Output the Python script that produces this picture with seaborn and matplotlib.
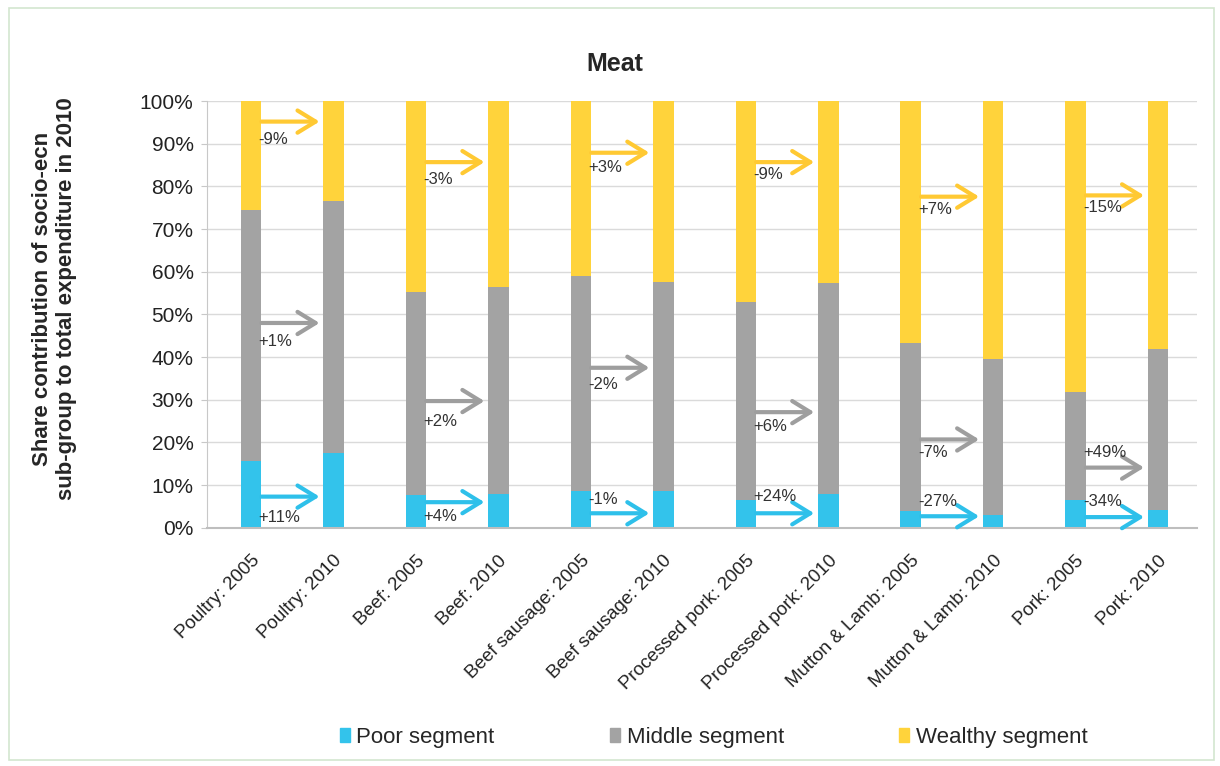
import seaborn as sns
import pandas as pd
import numpy as np
import matplotlib.pyplot as plt
from matplotlib.patches import Rectangle, Patch

# data (shares in %)
products = ["Poultry", "Beef", "Beef sausage", "Processed pork", "Mutton & Lamb", "Pork"]
years = ["2005", "2010"]
bar_labels = [f"{p}: {y}" for p in products for y in years]

poor = [15.7, 17.5, 7.7, 8.0, 8.7, 8.6, 6.5, 8.0, 3.9, 2.9, 6.5, 4.1]
middle = [58.8, 59.1, 47.6, 48.5, 50.3, 49.1, 46.5, 49.4, 39.5, 36.6, 25.3, 37.7]
wealthy = [25.5, 23.4, 44.7, 43.5, 41.0, 42.3, 47.0, 42.6, 56.6, 60.5, 68.2, 58.2]

# change 2005 -> 2010 for each product
poor_change = ["+11%", "+4%", "-1%", "+24%", "-27%", "-34%"]
middle_change = ["+1%", "+2%", "-2%", "+6%", "-7%", "+49%"]
wealthy_change = ["-9%", "-3%", "+3%", "-9%", "+7%", "-15%"]

# where the annotation arrows and their labels sit (in %)
poor_arrow_y = [7.3, 6.0, 3.4, 3.4, 2.7, 2.5]
middle_arrow_y = [48.0, 29.7, 37.5, 27.1, 20.7, 14.1]
wealthy_arrow_y = [95.2, 85.7, 87.9, 85.7, 77.6, 77.9]
poor_label_y = [2.4, 2.7, 6.6, 7.3, 6.1, 6.1]
middle_label_y = [43.7, 25.0, 33.6, 23.7, 17.6, 17.6]
wealthy_label_y = [91.0, 81.6, 84.5, 82.8, 74.6, 75.0]

c_poor = "#33C3EB"
c_middle = "#A3A3A3"
c_wealthy = "#FFD33B"

df = pd.DataFrame({"bar": bar_labels, "poor": poor, "middle": middle, "wealthy": wealthy})
df["poor_mid"] = df["poor"] + df["middle"]
df["total"] = df["poor_mid"] + df["wealthy"]

sns.set_style("white")
plt.rcParams["font.family"] = ["Liberation Sans", "DejaVu Sans"]

fig = plt.figure(figsize=(12.2, 7.66), dpi=100)
ax = fig.add_axes([0.170, 0.311, 0.811, 0.557])

# stacked bars: draw cumulative totals back to front
sns.barplot(data=df, x="bar", y="total", color=c_wealthy, width=0.25, saturation=1, ax=ax, zorder=2)
sns.barplot(data=df, x="bar", y="poor_mid", color=c_middle, width=0.25, saturation=1, ax=ax, zorder=2)
sns.barplot(data=df, x="bar", y="poor", color=c_poor, width=0.25, saturation=1, ax=ax, zorder=2)
for p in ax.patches:
    p.set_linewidth(0)

ax.set_xlim(-0.53, 11.47)
ax.set_ylim(0, 100)
ax.set_yticks(np.arange(0, 101, 10))
ax.set_yticklabels([f"{v}%" for v in range(0, 101, 10)], fontsize=15, color="#222222")
ax.yaxis.grid(True, color="#DADADA", lw=1)
ax.set_axisbelow(True)
for s in ["top", "right"]:
    ax.spines[s].set_visible(False)
ax.spines["left"].set_color("#C8C8C8")
ax.spines["bottom"].set_color("#BEBEBE")
ax.spines["bottom"].set_linewidth(1.5)
ax.tick_params(axis="y", left=True, length=4, color="#C8C8C8", pad=6)
ax.tick_params(axis="x", bottom=False, pad=14)
ax.set_xticks(range(len(bar_labels)))
ax.set_xticklabels(bar_labels, rotation=45, ha="right", rotation_mode="anchor",
                   fontsize=13.5, color="#222222")
ax.set_xlabel("")
ax.set_ylabel("Share contribution of socio-ecn\nsub-group to total expenditure in 2010",
              fontsize=16, fontweight="bold")
ax.yaxis.set_label_coords(-0.132, 0.536)
ax.set_title("Meat", fontsize=18, fontweight="bold", x=0.412, pad=22)

# change arrows between the 2005 and 2010 bar of each product
groups = [
    (wealthy_arrow_y, wealthy_label_y, wealthy_change, "#FFC933"),
    (middle_arrow_y, middle_label_y, middle_change, "#9E9E9E"),
    (poor_arrow_y, poor_label_y, poor_change, "#2EC0EA"),
]
for ay_list, ly_list, txt_list, col in groups:
    for k in range(len(products)):
        x0 = 2 * k + 0.125
        x1 = 2 * k + 1 - 0.17
        ax.annotate("", xy=(x1, ay_list[k]), xytext=(x0, ay_list[k]),
                    arrowprops=dict(arrowstyle="->,head_length=0.65,head_width=0.4",
                                    lw=3, color=col, mutation_scale=20,
                                    shrinkA=0, shrinkB=0), zorder=4)
        ax.text(2 * k + 0.09, ly_list[k], txt_list[k], fontsize=12, color="#333333",
                ha="left", va="center", zorder=5)

handles = [Patch(color=c_poor, label="Poor segment"),
           Patch(color=c_middle, label="Middle segment"),
           Patch(color=c_wealthy, label="Wealthy segment")]
fig.legend(handles=handles, loc="center", bbox_to_anchor=(0.585, 0.037), ncol=3,
           frameon=False, fontsize=16, handlelength=0.45, handleheight=0.6,
           handletextpad=0.3, columnspacing=5.2)

# light green frame around the picture
fig.patches.append(Rectangle((0.007, 0.008), 0.988, 0.982, transform=fig.transFigure,
                             fill=False, edgecolor="#D3E6CF", lw=1.2))

fig.savefig("out.png", dpi=100)
